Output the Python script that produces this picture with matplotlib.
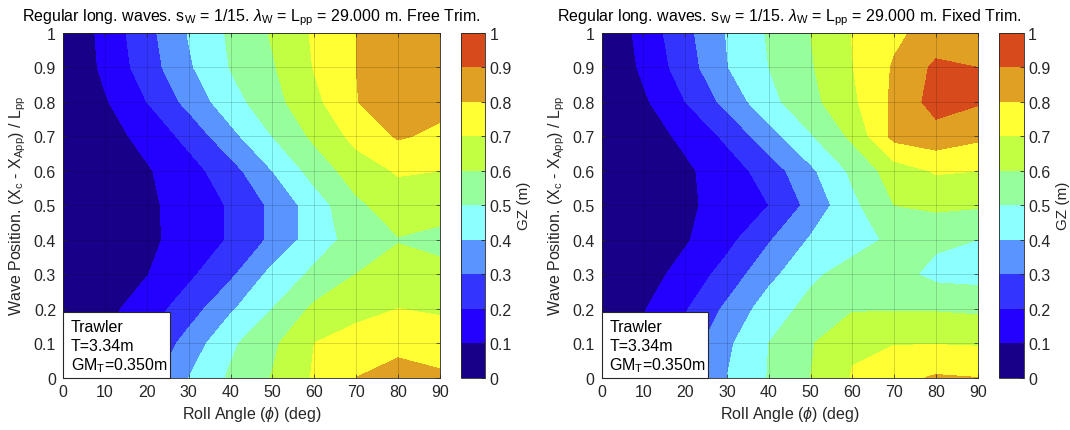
import numpy as np
import matplotlib
matplotlib.use('Agg')
import matplotlib.pyplot as plt
from matplotlib.patches import Rectangle

plt.rcParams['font.family'] = ['Liberation Sans', 'DejaVu Sans']
plt.rcParams['mathtext.fontset'] = 'custom'
plt.rcParams['mathtext.rm'] = 'Liberation Sans'
plt.rcParams['mathtext.it'] = 'Liberation Sans:italic'

# roll angle (deg) and wave position (fraction of Lpp)
roll_angle = [0, 10, 20, 30, 40, 50, 60, 70, 80, 90]
wave_pos = [0, 0.1, 0.2, 0.3, 0.4, 0.5, 0.6, 0.7, 0.8, 0.9, 1.0]

# GZ (m), one row per wave position - free trim
gz_free = [
    [0, 0.130, 0.260, 0.400, 0.515, 0.605, 0.710, 0.800, 0.840, 0.820],
    [0, 0.100, 0.200, 0.340, 0.480, 0.580, 0.700, 0.740, 0.770, 0.740],
    [0, 0.069, 0.150, 0.250, 0.385, 0.500, 0.620, 0.670, 0.700, 0.690],
    [0, 0.048, 0.096, 0.180, 0.280, 0.430, 0.520, 0.600, 0.640, 0.620],
    [0, 0.040, 0.080, 0.137, 0.210, 0.320, 0.450, 0.540, 0.595, 0.580],
    [0, 0.040, 0.081, 0.140, 0.210, 0.320, 0.450, 0.580, 0.650, 0.630],
    [0, 0.045, 0.090, 0.160, 0.260, 0.400, 0.540, 0.650, 0.710, 0.700],
    [0, 0.061, 0.130, 0.230, 0.370, 0.500, 0.620, 0.730, 0.810, 0.780],
    [0, 0.090, 0.200, 0.330, 0.460, 0.565, 0.675, 0.795, 0.880, 0.830],
    [0, 0.122, 0.250, 0.386, 0.504, 0.590, 0.705, 0.800, 0.880, 0.850],
    [0, 0.132, 0.267, 0.406, 0.516, 0.610, 0.713, 0.800, 0.860, 0.850],
]

# GZ (m) - fixed trim
gz_fixed = [
    [0, 0.150, 0.280, 0.400, 0.505, 0.600, 0.705, 0.770, 0.810, 0.800],
    [0, 0.120, 0.240, 0.380, 0.500, 0.590, 0.690, 0.695, 0.695, 0.690],
    [0, 0.093, 0.190, 0.320, 0.450, 0.530, 0.590, 0.590, 0.590, 0.580],
    [0, 0.060, 0.133, 0.240, 0.370, 0.480, 0.540, 0.540, 0.470, 0.460],
    [0, 0.045, 0.090, 0.170, 0.290, 0.410, 0.460, 0.520, 0.520, 0.500],
    [0, 0.040, 0.080, 0.140, 0.200, 0.330, 0.475, 0.600, 0.620, 0.610],
    [0, 0.042, 0.083, 0.150, 0.245, 0.380, 0.520, 0.650, 0.710, 0.700],
    [0, 0.057, 0.120, 0.220, 0.360, 0.490, 0.620, 0.830, 0.860, 0.820],
    [0, 0.083, 0.200, 0.330, 0.470, 0.570, 0.680, 0.820, 0.940, 0.910],
    [0, 0.119, 0.250, 0.396, 0.500, 0.590, 0.697, 0.810, 0.920, 0.900],
    [0, 0.137, 0.270, 0.405, 0.510, 0.600, 0.703, 0.780, 0.840, 0.860],
]

gz_levels = [0, 0.1, 0.2, 0.3, 0.4, 0.5, 0.6, 0.7, 0.8, 0.9, 1.0]
band_colors = ['#190088', '#2400ff', '#3434ff', '#5a95ff', '#8cffff',
               '#96ff9c', '#c2ff42', '#ffff33', '#e0a024', '#d64a1c']

titles = ['Regular long. waves. s$_\\mathrm{W}$ = 1/15. $\\lambda_\\mathrm{W}$ = '
          'L$_\\mathrm{pp}$ = 29.000 m. Free Trim.',
          'Regular long. waves. s$_\\mathrm{W}$ = 1/15. $\\lambda_\\mathrm{W}$ = '
          'L$_\\mathrm{pp}$ = 29.000 m. Fixed Trim.']

fig = plt.figure(figsize=(10.7, 4.31), dpi=100)

# axes positions in figure fraction (main plot, colorbar)
panels = [
    ([0.0589, 0.1218, 0.3523, 0.7993], [0.4308, 0.1218, 0.0226, 0.7993]),
    ([0.5623, 0.1218, 0.3514, 0.7993], [0.9338, 0.1218, 0.0232, 0.7993]),
]

dark = '#262626'

for (ax_pos, cb_pos), gz, title in zip(panels, [gz_free, gz_fixed], titles):
    ax = fig.add_axes(ax_pos)
    cax = fig.add_axes(cb_pos)

    cs = ax.contourf(roll_angle, wave_pos, np.array(gz), levels=gz_levels,
                     colors=band_colors)

    ax.set_xlim(0, 90)
    ax.set_ylim(0, 1)
    ax.set_xticks(roll_angle)
    ax.set_yticks(wave_pos)
    ax.set_yticklabels([f'{v:g}' for v in wave_pos])
    ax.set_axisbelow(False)
    ax.grid(True, color='k', alpha=0.15, linewidth=0.7)
    ax.tick_params(direction='in', length=3, width=0.5, colors=dark,
                   labelsize=11.5, top=True, right=True, pad=5)
    for s in ax.spines.values():
        s.set_color(dark)
        s.set_linewidth(0.6)

    ax.set_title(title, fontsize=11.5, color='black', pad=9)
    ax.set_xlabel('Roll Angle ($\\phi$) (deg)', fontsize=11.5, color=dark, labelpad=3)
    ax.set_ylabel('Wave Position. (X$_\\mathrm{c}$ - X$_\\mathrm{App}$) / L$_\\mathrm{pp}$',
                  fontsize=11.5, color=dark, labelpad=4)

    # info box in the lower left corner
    ax.add_patch(Rectangle((0, 0), 0.284, 0.19, transform=ax.transAxes,
                           facecolor='white', edgecolor=dark, linewidth=0.8,
                           zorder=5, clip_on=False))
    info = ['Trawler', 'T=3.34m', 'GM$_\\mathrm{T}$=0.350m']
    for i, line in enumerate(info):
        ax.text(0.02, 0.148 - i * 0.055, line, transform=ax.transAxes,
                fontsize=11.5, va='center', ha='left', zorder=6)

    cb = fig.colorbar(cs, cax=cax, ticks=gz_levels)
    cb.ax.set_yticklabels([f'{v:g}' for v in gz_levels])
    cb.ax.tick_params(direction='in', length=3, width=0.6, colors=dark,
                      labelsize=11.5, pad=3)
    cb.outline.set_edgecolor(dark)
    cb.outline.set_linewidth(0.6)
    cb.set_label('GZ (m)', fontsize=11, color=dark, labelpad=4)

fig.savefig('out.png', dpi=100, facecolor='white')
